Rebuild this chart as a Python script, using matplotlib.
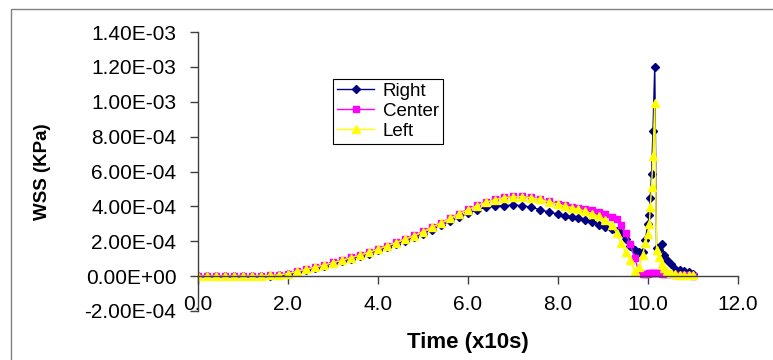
import matplotlib
matplotlib.use("Agg")
import matplotlib.pyplot as plt
from matplotlib.patches import Rectangle

plt.rcParams['font.family'] = ['Liberation Sans', 'DejaVu Sans']

time = [0.0, 0.2, 0.4, 0.6, 0.8, 1.0, 1.2, 1.4, 1.6, 1.8,
        2.0, 2.2, 2.4, 2.6, 2.8, 3.0, 3.2, 3.4, 3.6, 3.8,
        4.0, 4.2, 4.4, 4.6, 4.8, 5.0, 5.2, 5.4, 5.6, 5.8,
        6.0, 6.2, 6.4, 6.6, 6.8, 7.0, 7.2, 7.4, 7.6, 7.8, 8.0,
        8.15, 8.3, 8.45, 8.6, 8.75, 8.9, 9.05, 9.2, 9.3, 9.4,
        9.5, 9.6, 9.7, 9.8,
        9.88, 9.94, 10.0, 10.03, 10.05, 10.08, 10.11, 10.15,
        10.19, 10.25, 10.3, 10.36, 10.42, 10.5, 10.6, 10.7, 10.8, 10.9, 11.0]

right = [0, 0, 0, 0, 0, 0, 0.01e-4, 0.02e-4, 0.03e-4, 0.06e-4,
         0.12e-4, 0.25e-4, 0.36e-4, 0.49e-4, 0.60e-4, 0.73e-4, 0.86e-4, 1.00e-4, 1.14e-4, 1.29e-4,
         1.47e-4, 1.65e-4, 1.83e-4, 2.02e-4, 2.22e-4, 2.43e-4, 2.67e-4, 2.92e-4, 3.16e-4, 3.39e-4,
         3.61e-4, 3.81e-4, 3.94e-4, 4.01e-4, 4.05e-4, 4.07e-4, 4.05e-4, 3.95e-4, 3.81e-4, 3.67e-4, 3.56e-4,
         3.46e-4, 3.38e-4, 3.31e-4, 3.20e-4, 3.08e-4, 2.95e-4, 2.82e-4, 2.70e-4, 2.60e-4, 2.45e-4,
         2.12e-4, 1.75e-4, 1.50e-4, 1.38e-4,
         1.36e-4, 2.10e-4, 3.00e-4, 3.50e-4, 4.46e-4, 5.86e-4, 8.30e-4, 12.00e-4,
         1.60e-4, 1.50e-4, 1.84e-4, 1.20e-4, 0.90e-4, 0.69e-4, 0.42e-4, 0.34e-4, 0.28e-4, 0.22e-4, 0.10e-4]

center = [0, 0, 0, 0, 0, 0, 0.01e-4, 0.02e-4, 0.04e-4, 0.07e-4,
          0.15e-4, 0.29e-4, 0.40e-4, 0.54e-4, 0.65e-4, 0.79e-4, 0.93e-4, 1.08e-4, 1.22e-4, 1.38e-4,
          1.57e-4, 1.75e-4, 1.94e-4, 2.14e-4, 2.34e-4, 2.57e-4, 2.82e-4, 3.07e-4, 3.33e-4, 3.59e-4,
          3.84e-4, 4.07e-4, 4.26e-4, 4.41e-4, 4.52e-4, 4.58e-4, 4.58e-4, 4.52e-4, 4.42e-4, 4.30e-4, 4.16e-4,
          4.06e-4, 3.99e-4, 3.93e-4, 3.86e-4, 3.78e-4, 3.66e-4, 3.55e-4, 3.40e-4, 3.25e-4, 2.95e-4,
          2.50e-4, 1.87e-4, 1.05e-4, 0.25e-4,
          0.12e-4, 0.15e-4, 0.15e-4, 0.18e-4, 0.18e-4, 0.20e-4, 0.20e-4, 0.20e-4,
          0.18e-4, 0.18e-4, 0.15e-4, 0.15e-4, 0.12e-4, 0.10e-4, 0.08e-4, 0.06e-4, 0.05e-4, 0.04e-4, 0.03e-4]

left = [0, 0, 0, 0, 0, 0, 0.01e-4, 0.02e-4, 0.04e-4, 0.07e-4,
        0.14e-4, 0.28e-4, 0.39e-4, 0.52e-4, 0.63e-4, 0.77e-4, 0.91e-4, 1.06e-4, 1.20e-4, 1.36e-4,
        1.55e-4, 1.73e-4, 1.92e-4, 2.12e-4, 2.32e-4, 2.55e-4, 2.80e-4, 3.05e-4, 3.31e-4, 3.57e-4,
        3.82e-4, 4.05e-4, 4.24e-4, 4.39e-4, 4.50e-4, 4.56e-4, 4.56e-4, 4.50e-4, 4.40e-4, 4.26e-4, 4.12e-4,
        4.02e-4, 3.93e-4, 3.84e-4, 3.73e-4, 3.59e-4, 3.42e-4, 3.22e-4, 2.95e-4, 2.45e-4, 1.90e-4,
        1.40e-4, 0.92e-4, 0.28e-4, 0.54e-4,
        1.20e-4, 1.90e-4, 2.40e-4, 3.00e-4, 3.97e-4, 5.10e-4, 6.90e-4, 9.90e-4,
        1.50e-4, 1.10e-4, 0.70e-4, 0.45e-4, 0.30e-4, 0.18e-4, 0.12e-4, 0.09e-4, 0.07e-4, 0.06e-4, 0.05e-4]

series_names = ["Right", "Center", "Left"]
x_ticks = [0, 2, 4, 6, 8, 10, 12]
y_ticks = [-2e-4, 0, 2e-4, 4e-4, 6e-4, 8e-4, 1e-3, 1.2e-3, 1.4e-3]

fig = plt.figure(figsize=(7.73, 3.6), dpi=100)
fig.patches.append(Rectangle((11 / 773, -0.2), 1.2, 1.2 - 9 / 360,
                             transform=fig.transFigure, fill=False,
                             edgecolor='#808080', linewidth=1.0))

ax = fig.add_axes([198 / 773, 1 - 311 / 360, 540 / 773, 279 / 360])

ax.plot(time, right, color='#000080', marker='D', markersize=4.5, linewidth=1.0,
        label=series_names[0])
ax.plot(time, center, color='#FF00FF', marker='s', markersize=4.8, linewidth=1.0,
        label=series_names[1])
ax.plot(time, left, color='#FFFF00', marker='^', markersize=5.8, linewidth=1.0,
        label=series_names[2])

ax.set_xlim(0, 12)
ax.set_ylim(-2e-4, 1.4e-3)
ax.set_xticks(x_ticks)
ax.set_xticklabels([f"{v:.1f}" for v in x_ticks])
ax.set_yticks(y_ticks)
ax.set_yticklabels([f"{v:.2E}" for v in y_ticks])

for s in ['top', 'right']:
    ax.spines[s].set_visible(False)
ax.spines['bottom'].set_position(('data', 0))
for s in ['left', 'bottom']:
    ax.spines[s].set_color('#404040')
    ax.spines[s].set_linewidth(1.0)

ax.tick_params(axis='y', direction='out', length=5.5, width=1.0, color='#404040',
               pad=10, labelsize=15)
ax.tick_params(axis='x', direction='out', length=5.5, width=1.0, color='#404040',
               pad=8, labelsize=15)

ax.set_xlabel("Time (x10s)", fontsize=16, fontweight='bold')
ax.xaxis.set_label_coords(0.5, -0.075)
ax.set_ylabel("WSS (KPa)", fontsize=13.5, fontweight='bold')
ax.yaxis.set_label_coords(-0.272, 0.5)

leg = ax.legend(loc='upper left', bbox_to_anchor=(0.25, 0.8315), borderaxespad=0,
                fontsize=13.5, handlelength=2.0, handletextpad=0.45, borderpad=0.2,
                labelspacing=0.15, fancybox=False, edgecolor='black', framealpha=1)
leg.get_frame().set_linewidth(0.8)

fig.savefig("out.png", dpi=100)
